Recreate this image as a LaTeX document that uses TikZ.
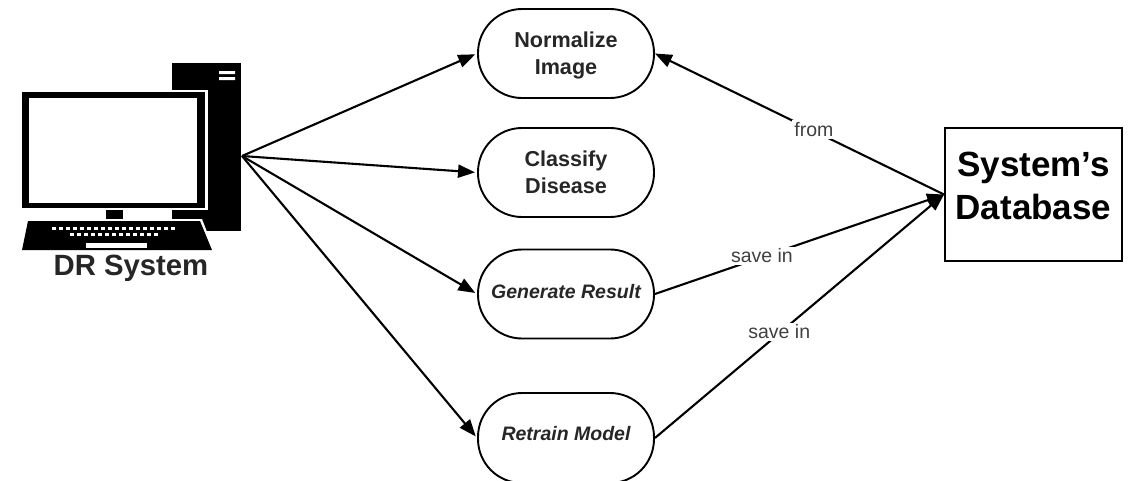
\documentclass[tikz,border=0pt]{standalone}
\usepackage{fontspec}
\setmainfont{Liberation Sans}
\usetikzlibrary{arrows.meta}

\tikzset{
  task/.style={draw, line width=1.9pt, rounded corners=44pt, minimum width=176pt, minimum height=89pt, inner sep=0pt, align=center, text=black!85, font=\fontsize{21.6}{27}\selectfont\bfseries},
  taskit/.style={task, font=\fontsize{19.5}{22}\selectfont\bfseries\itshape},
  store/.style={draw, line width=2pt, minimum width=177pt, minimum height=133pt, inner sep=0pt},
  tag/.style={fill=white, inner sep=2pt, yshift=1.5pt, text=black!75, font=\fontsize{19.5}{22}\selectfont},
  flow/.style={-{Triangle[length=17pt,width=13pt]}, line width=2.1pt}
}

\begin{document}
\begin{tikzpicture}[x=1pt, y=-1pt]
  \useasboundingbox (0,0) rectangle (1130,480);

  % tower
  \fill (172,63) rectangle (241,231);
  \fill[white] (219,71) rectangle (235,74) (219,77) rectangle (235,80);
  % monitor
  \fill[white] (172,90) rectangle (208,210);
  \fill (22,92) rectangle (205,208);
  \fill[white] (29,98) rectangle (197,203);
  \fill (106,210) rectangle (123,219);
  \fill (172,210) rectangle (202,218);
  % keyboard
  \fill[white] (172,219) -- (202,219) -- (214,250) -- (172,250) -- cycle;
  \fill (28,221) -- (200,221) -- (212,250) -- (22,250) -- cycle;
  \foreach \kx in {54,61,...,173} \fill[white] (\kx-2.2,226.5) rectangle (\kx+2.2,230);
  \foreach \kx in {72,79,...,156} \fill[white] (\kx-2.2,232.5) rectangle (\kx+2.2,236);
  \fill[white] (86,243) rectangle (147,248);

  \node[inner sep=0pt, font=\fontsize{29.3}{30}\selectfont\bfseries, text=black!85] (drsystem) at (131,268) {DR System};
  \coordinate (pc) at (242,156);

  \node[task, text depth=0pt] (normalize) at (566,53.5) {Normalize\\Image};
  \node[task] (classify) at (566,172.5) {Classify\\Disease};
  \node[taskit, text depth=6pt] (generate) at (566,294) {Generate Result};
  \node[taskit, text depth=10pt, minimum height=90pt] (retrain) at (566,438) {Retrain Model};

  \node[store, align=center, font=\fontsize{35}{43}\selectfont\bfseries, text depth=17pt] (database) at (1033.5,194.5) {System’s\\Database};

  \path[flow, shorten >=2pt]
    (pc) edge (normalize.west)
    (pc) edge (classify.west)
    (pc) edge (generate.west)
    (pc) edge (retrain.west);
  \path[flow]
    (generate.east) edge node[tag, pos=0.37] {save in} (database.west)
    (retrain.east) edge node[tag, pos=0.43] {save in} (database.west);
  \draw[{Triangle[length=17pt,width=13pt]}-, line width=2.1pt] (normalize.east) -- node[tag, pos=0.55] {from} (database.west);
\end{tikzpicture}
\end{document}
